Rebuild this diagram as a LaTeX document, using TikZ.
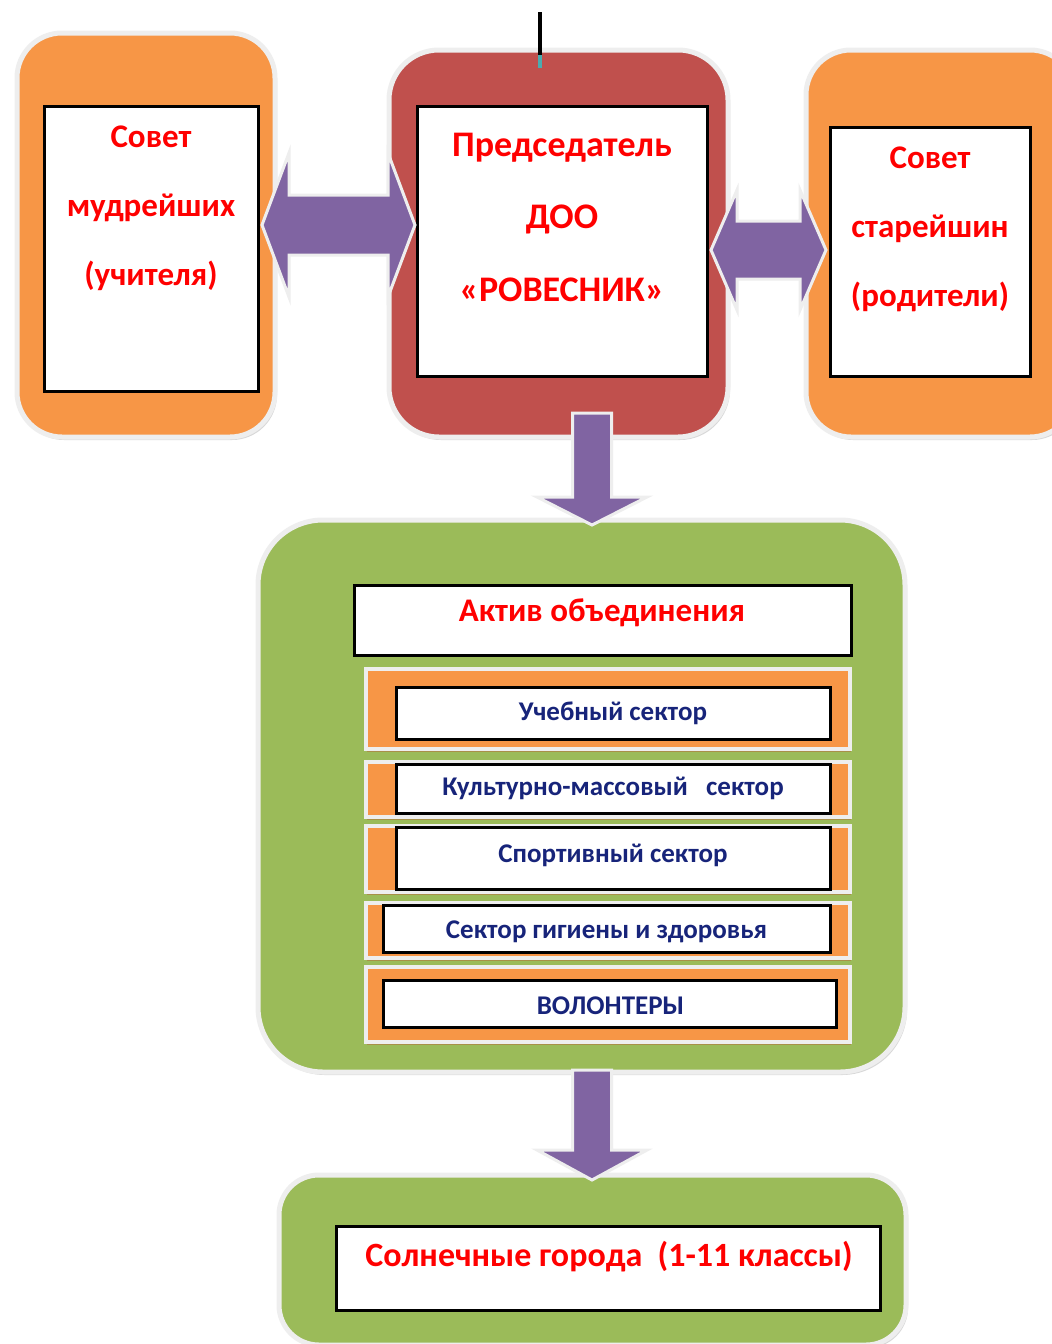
\documentclass[tikz,border=0pt]{standalone}
\usepackage{fontspec}
\setmainfont{Carlito}
\usetikzlibrary{calc,shadows}
\definecolor{orng}{HTML}{F79646}
\definecolor{redb}{HTML}{C0504D}
\definecolor{grn}{HTML}{9BBB59}
\definecolor{purp}{HTML}{8064A2}
\definecolor{navy}{HTML}{17247A}
\definecolor{txtred}{HTML}{FF0000}
\definecolor{halo}{HTML}{EEEEEE}
\definecolor{olive}{HTML}{A89048}
\definecolor{teal}{HTML}{4AACB0}
\tikzset{
  outerbox/.style={draw=halo, line width=5pt, rounded corners=#1, inner sep=0pt, outer sep=0pt,
    drop shadow={shadow xshift=2pt, shadow yshift=-3pt, fill=black!25, opacity=.6}},
  wbox/.style={draw=black, line width=3pt, fill=white, inner sep=0pt, outer sep=0pt},
  strip/.style={draw=halo, line width=4pt, fill=orng, inner sep=0pt, outer sep=0pt,
    drop shadow={shadow xshift=1pt, shadow yshift=-3pt, fill=olive, opacity=1}},
  redtxt/.style 2 args={text=txtred, font=\bfseries\fontsize{#1}{#2}\selectfont},
  navytxt/.style={text=navy, font=\bfseries\fontsize{27}{27}\selectfont},
  fatarrow/.style={fill=purp, draw=halo, line width=3pt, line join=miter},
}
\newcommand{\bx}[6]{% name, x1, y1, x2, y2, style
  \node[#6, minimum width=#4-#2, minimum height=#5-#3] (#1) at ({(#2+#4)/2},{(#3+#5)/2}) {};}
\begin{document}
\begin{tikzpicture}[x=1pt,y=-1pt]
\useasboundingbox[fill=white] (0,0) rectangle (1052,1344);
% outer boxes
\bx{lo}{17}{33}{275}{437}{outerbox=45pt, fill=orng}
\bx{co}{389}{50}{728}{437}{outerbox=50pt, fill=redb}
\bx{ro}{806}{50}{1075}{437}{outerbox=45pt, fill=orng}
\bx{gb}{258}{520}{905}{1072}{outerbox=65pt, fill=grn}
\bx{bb}{279}{1175}{906}{1345}{outerbox=40pt, fill=grn}
% top line
\coordinate (tl1) at (540,12);
\coordinate (tl2) at (540,55);
\coordinate (tl3) at (540,68);
\draw[line width=4pt, black] (tl1) -- (tl2);
\draw[line width=4pt, teal] (tl2) -- (tl3);
% inner white boxes
\bx{lw}{44}{106}{258}{391}{wbox}
\bx{cw}{417}{106}{707}{376}{wbox}
\bx{rw}{830}{127}{1030}{376}{wbox}
\node[redtxt={33}{69}, align=center] (lwt) at (151,208)
  {Совет\\мудрейших\\(учителя)};
\node[redtxt={36}{72.5}, align=center] (cwt) at (562,217)
  {Председатель\\ДОО\\«РОВЕСНИК»};
\node[redtxt={33}{69}, align=center] (rwt) at (930,229)
  {Совет\\старейшин\\(родители)};
% arrows between top boxes
\coordinate (a1s) at ($(lw.east)+(4,-23.5)$);
\coordinate (a1e) at ($(cw.west)+(-2,-16)$);
\filldraw[fatarrow] (a1s) -- ($(a1s)+(27,-72)$) -- ($(a1s)+(27,-30)$) -- ($(a1e)+(-27,-30)$)
  -- ($(a1e)+(-27,-72)$) -- (a1e) -- ($(a1e)+(-27,72)$) -- ($(a1e)+(-27,30)$)
  -- ($(a1s)+(27,30)$) -- ($(a1s)+(27,72)$) -- cycle;
\coordinate (a2s) at ($(cw.east)+(4,9)$);
\coordinate (a2e) at ($(rw.west)+(-4,-1.5)$);
\filldraw[fatarrow] (a2s) -- ($(a2s)+(26,-60)$) -- ($(a2s)+(26,-29)$) -- ($(a2e)+(-26,-29)$)
  -- ($(a2e)+(-26,-60)$) -- (a2e) -- ($(a2e)+(-26,60)$) -- ($(a2e)+(-26,29)$)
  -- ($(a2s)+(26,29)$) -- ($(a2s)+(26,60)$) -- cycle;
% down arrows
\coordinate (a3s) at (592,413);
\coordinate (a3e) at ($(gb.north)+(10.5,5)$);
\filldraw[fatarrow] ($(a3s)+(-19.5,0)$) -- ($(a3s)+(19.5,0)$) -- ($(a3e)+(19.5,-28)$)
  -- ($(a3e)+(55,-28)$) -- (a3e) -- ($(a3e)+(-55,-28)$) -- ($(a3e)+(-19.5,-28)$) -- cycle;
\coordinate (a4s) at ($(gb.south)+(10.5,-2)$);
\coordinate (a4e) at ($(bb.north)+(-0.5,5)$);
\filldraw[fatarrow] ($(a4s)+(-19.5,0)$) -- ($(a4s)+(19.5,0)$) -- ($(a4e)+(19.5,-30)$)
  -- ($(a4e)+(55,-30)$) -- (a4e) -- ($(a4e)+(-55,-30)$) -- ($(a4e)+(-19.5,-30)$) -- cycle;
% green box content
\bx{ak}{354}{585}{851}{655}{wbox}
\node[redtxt={33}{33}] (akt) at (602,613) {Актив объединения};
\bx{s1}{366}{669}{850}{749}{strip}
\bx{s2}{366}{762}{850}{817}{strip}
\bx{s3}{366}{826}{850}{892}{strip}
\bx{s4}{366}{903}{850}{958}{strip}
\bx{s5}{366}{967}{850}{1042}{strip}
\bx{w1}{396}{687}{830}{739}{wbox}
\bx{w2}{396}{764}{830}{813}{wbox}
\bx{w3}{396}{827}{830}{889}{wbox}
\bx{w4}{383}{905}{830}{952}{wbox}
\bx{w5}{383}{980}{836}{1027}{wbox}
\node[navytxt] (t1) at (w1) {Учебный сектор};
\node[navytxt] (t2) at (w2) {Культурно-массовый\ \ \ сектор};
\node[navytxt] (t3) at ($(w3)+(0,-3)$) {Спортивный сектор};
\node[navytxt] (t4) at ($(w4)+(0,3)$) {Сектор гигиены и здоровья};
\node[navytxt] (t5) at ($(w5)+(1,2)$) {ВОЛОНТЕРЫ};
% bottom
\bx{wb}{336}{1226}{880}{1310}{wbox}
\node[redtxt={34}{34}] (wbt) at (609,1257) {Солнечные города\ \ (1-11 классы)};
\end{tikzpicture}
\end{document}
